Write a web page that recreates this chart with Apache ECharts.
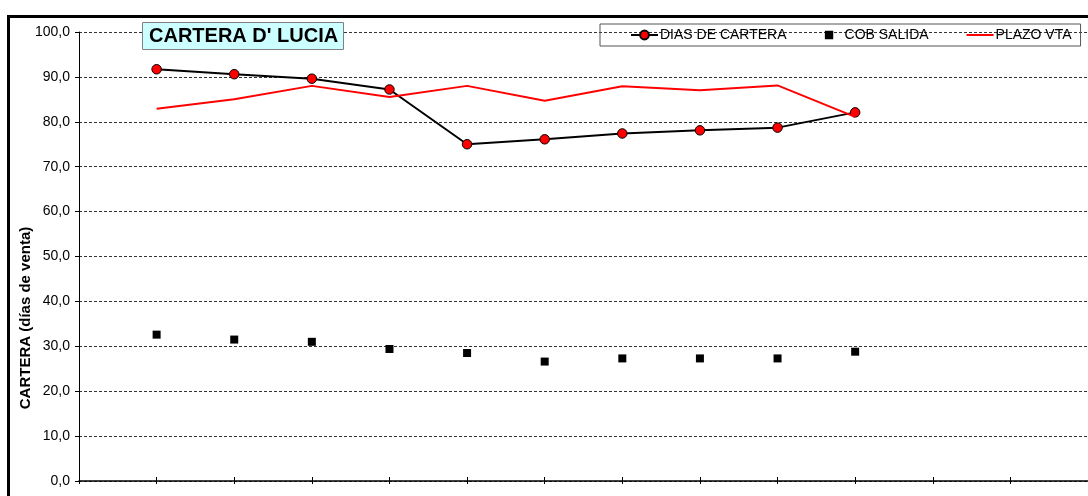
<!DOCTYPE html>
<html>
<head>
<meta charset="utf-8">
<script src="https://cdn.jsdelivr.net/npm/echarts@6/dist/echarts.min.js"></script>
<style>
html,body{margin:0;padding:0;background:#fff;}
#chart{width:1088px;height:496px;}
</style>
</head>
<body>
<div id="chart"></div>
<script>
// Categories (periods); first and last three have no data
var categories = ['', '1', '2', '3', '4', '5', '6', '7', '8', '9', '10', '11', '12', '13'];
var diasCartera = [null, 91.7, 90.6, 89.6, 87.2, 75.0, 76.1, 77.4, 78.1, 78.7, 82.1, null, null, null];
var cobSalida   = [null, 32.6, 31.5, 31.0, 29.4, 28.5, 26.6, 27.3, 27.3, 27.3, 28.8, null, null, null];
var plazoVta    = [null, 82.9, 85.0, 88.0, 85.5, 88.0, 84.7, 87.9, 87.0, 88.1, 81.1, null, null, null];
var yTicks = [0, 10, 20, 30, 40, 50, 60, 70, 80, 90, 100];

var FONT = "'Liberation Sans', Arial, sans-serif";
var SQUARE_ICON = 'path://M1.2,1.2L8.8,1.2L8.8,8.8L1.2,8.8Z M0,0L0.001,0L0,0.001Z M10,10L9.999,10L10,9.999Z';
var chart = echarts.init(document.getElementById('chart'), null, {renderer: 'canvas'});
chart.setOption({
  animation: false,
  backgroundColor: '#fff',
  title: {
    text: "CARTERA D' LUCIA",
    left: 142, top: 22,
    padding: [3, 6, 3, 7],
    backgroundColor: '#CCFFFF',
    borderColor: '#808080',
    borderWidth: 1,
    textStyle: {fontFamily: FONT, fontWeight: 'bold', fontSize: 20, color: '#000', lineHeight: 22}
  },
  legend: {
    left: 600, top: 24,
    padding: [4, 9, 4, 30],
    borderColor: '#555', borderWidth: 1,
    itemGap: 37, itemWidth: 27, itemHeight: 11,
    textStyle: {fontFamily: FONT, fontSize: 14, color: '#000', padding: [0, 0, 0, -3]},
    data: [
      {name: 'DIAS DE CARTERA'},
      {name: 'COB SALIDA', icon: SQUARE_ICON},
      {name: 'PLAZO VTA', itemStyle: {color: 'rgba(0,0,0,0)', borderColor: 'rgba(0,0,0,0)', borderWidth: 0}}
    ]
  },
  grid: {left: 79, right: -5, top: 32, bottom: 15, containLabel: false},
  xAxis: [{
    type: 'category', data: categories, boundaryGap: false,
    axisLine: {lineStyle: {color: '#000', width: 1.5}},
    axisTick: {show: true, length: 3, lineStyle: {color: '#000'}},
    axisLabel: {show: false},
    splitLine: {show: false}
  }, {
    type: 'category', data: categories, boundaryGap: false, position: 'bottom',
    axisLine: {show: false},
    axisTick: {show: true, inside: true, length: 4, lineStyle: {color: '#000'}},
    axisLabel: {show: false},
    splitLine: {show: false}
  }],
  yAxis: {
    type: 'value', min: yTicks[0], max: yTicks[yTicks.length - 1], interval: 10,
    axisLine: {show: true, lineStyle: {color: '#000', width: 1}},
    axisTick: {show: true, length: 4, lineStyle: {color: '#000'}},
    axisLabel: {
      fontFamily: FONT, fontSize: 14, color: '#000', margin: 9,
      formatter: function (v) { return v.toFixed(1).replace('.', ','); }
    },
    splitLine: {show: true, lineStyle: {color: '#333', width: 1, type: [3, 2]}}
  },
  graphic: [
    {
      type: 'polyline', silent: true,
      shape: {points: [[8.5, 497], [8.5, 16.5], [1090, 16.5]]},
      style: {stroke: '#000', lineWidth: 3, fill: null}
    },
    {
      type: 'text', x: 26, y: 318, rotation: Math.PI / 2, silent: true,
      style: {
        text: 'CARTERA (días de venta)', fill: '#000',
        font: 'bold 15px ' + FONT,
        textAlign: 'center', textVerticalAlign: 'middle'
      }
    }
  ],
  series: [
    {
      name: 'DIAS DE CARTERA', type: 'line', data: diasCartera,
      symbol: 'circle', symbolSize: 9.5, showSymbol: true,
      lineStyle: {color: '#000', width: 2},
      itemStyle: {color: '#FF0000', borderColor: '#000', borderWidth: 1},
      z: 3
    },
    {
      name: 'COB SALIDA', type: 'scatter', data: cobSalida,
      symbol: 'rect', symbolSize: 8,
      itemStyle: {color: '#000', opacity: 1},
      z: 3
    },
    {
      name: 'PLAZO VTA', type: 'line', data: plazoVta,
      symbol: 'none',
      lineStyle: {color: '#FF0000', width: 2},
      itemStyle: {color: '#FF0000'},
      z: 4
    }
  ]
});
</script>
</body>
</html>
